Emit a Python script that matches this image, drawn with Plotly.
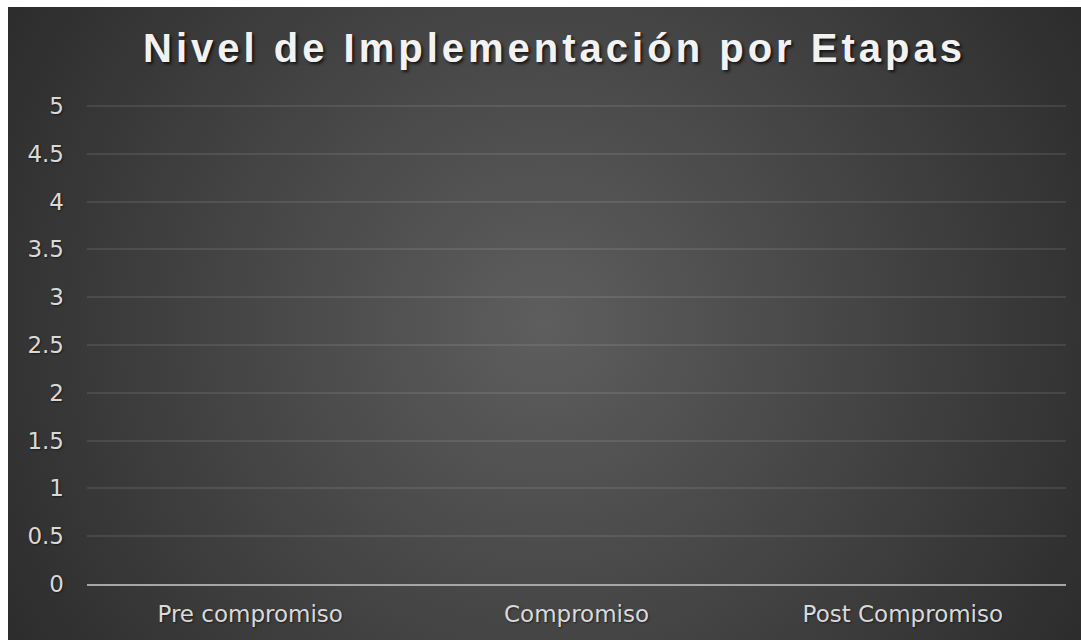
import base64
import plotly.graph_objects as go

# Chart content
title_text = "Nivel de Implementación por Etapas"
stages = ["Pre compromiso", "Compromiso", "Post Compromiso"]
implementation_level = [None, None, None]  # no levels recorded yet
y_ticks = [0, 0.5, 1, 1.5, 2, 2.5, 3, 3.5, 4, 4.5, 5]

W, H = 1081, 640
ML, MR, MT, MB = 87, 15, 102, 56
plot_w = W - ML - MR
plot_h = H - MT - MB
y_top = 5 * plot_h / (plot_h - 4)  # a few spare pixels so the 5 gridline is drawn

# Dark radial-gradient chart panel (starts a few px in from the top-left corner)
panel_x0, panel_y0 = 8, 7
panel_w, panel_h = W - panel_x0, H - panel_y0
svg = f"""<svg xmlns='http://www.w3.org/2000/svg' width='{panel_w}' height='{panel_h}' viewBox='0 0 {panel_w} {panel_h}' preserveAspectRatio='none'>
<defs><radialGradient id='g' gradientUnits='userSpaceOnUse' cx='{panel_w/2}' cy='{panel_h/2}' r='700'>
<stop offset='0' stop-color='#5e5e5e'/><stop offset='1' stop-color='#262626'/></radialGradient></defs>
<rect x='0' y='0' width='{panel_w}' height='{panel_h}' fill='url(#g)'/></svg>"""
svg_uri = "data:image/svg+xml;base64," + base64.b64encode(svg.encode()).decode()

fig = go.Figure()
fig.add_trace(go.Bar(x=stages, y=implementation_level, marker_color="#a5a5a5",
                     showlegend=False, hoverinfo="skip"))

fig.add_layout_image(
    source=svg_uri, xref="paper", yref="paper",
    x=(panel_x0 - ML) / plot_w, y=(H - MB - panel_y0) / plot_h,
    sizex=panel_w / plot_w, sizey=panel_h / plot_h,
    xanchor="left", yanchor="top", sizing="stretch", layer="below",
)

tick_font = dict(family="DejaVu Sans", size=23, color="#d9d9d9",
                 shadow="1px 1px 2px rgba(0,0,0,0.5)")

fig.update_layout(
    width=W, height=H,
    margin=dict(l=ML, r=MR, t=MT, b=MB),
    paper_bgcolor="white",
    plot_bgcolor="rgba(0,0,0,0)",
    title=dict(
        text=title_text,
        x=554.5 / W, xref="container", xanchor="center",
        y=1 - 47.5 / H, yref="container", yanchor="middle",
        font=dict(family="Liberation Sans", size=40, weight="bold", color="#f2f2f2",
                  shadow="2px 2px 3px rgba(0,0,0,0.7)"),
    ),
    xaxis=dict(
        type="category", categoryorder="array", categoryarray=stages,
        range=[-0.5, 2.5], showgrid=False, zeroline=False,
        showline=True, linecolor="#a6a6a6", linewidth=2,
        ticks="", tickfont=tick_font, ticklabelstandoff=8,
    ),
    yaxis=dict(
        range=[0, y_top], tickvals=y_ticks, showgrid=True,
        gridcolor="rgba(255,255,255,0.09)", gridwidth=1.5,
        zeroline=False, showline=False, ticks="",
        tickfont=tick_font, ticklabelstandoff=22,
    ),
)

# Widen the title's letter spacing once the page is loaded
spacing_js = (
    "var s=document.createElement('style');"
    "s.textContent='.gtitle{letter-spacing:4px;}';"
    "document.head.appendChild(s);"
)
fig.write_html("out.html", post_script=spacing_js)
